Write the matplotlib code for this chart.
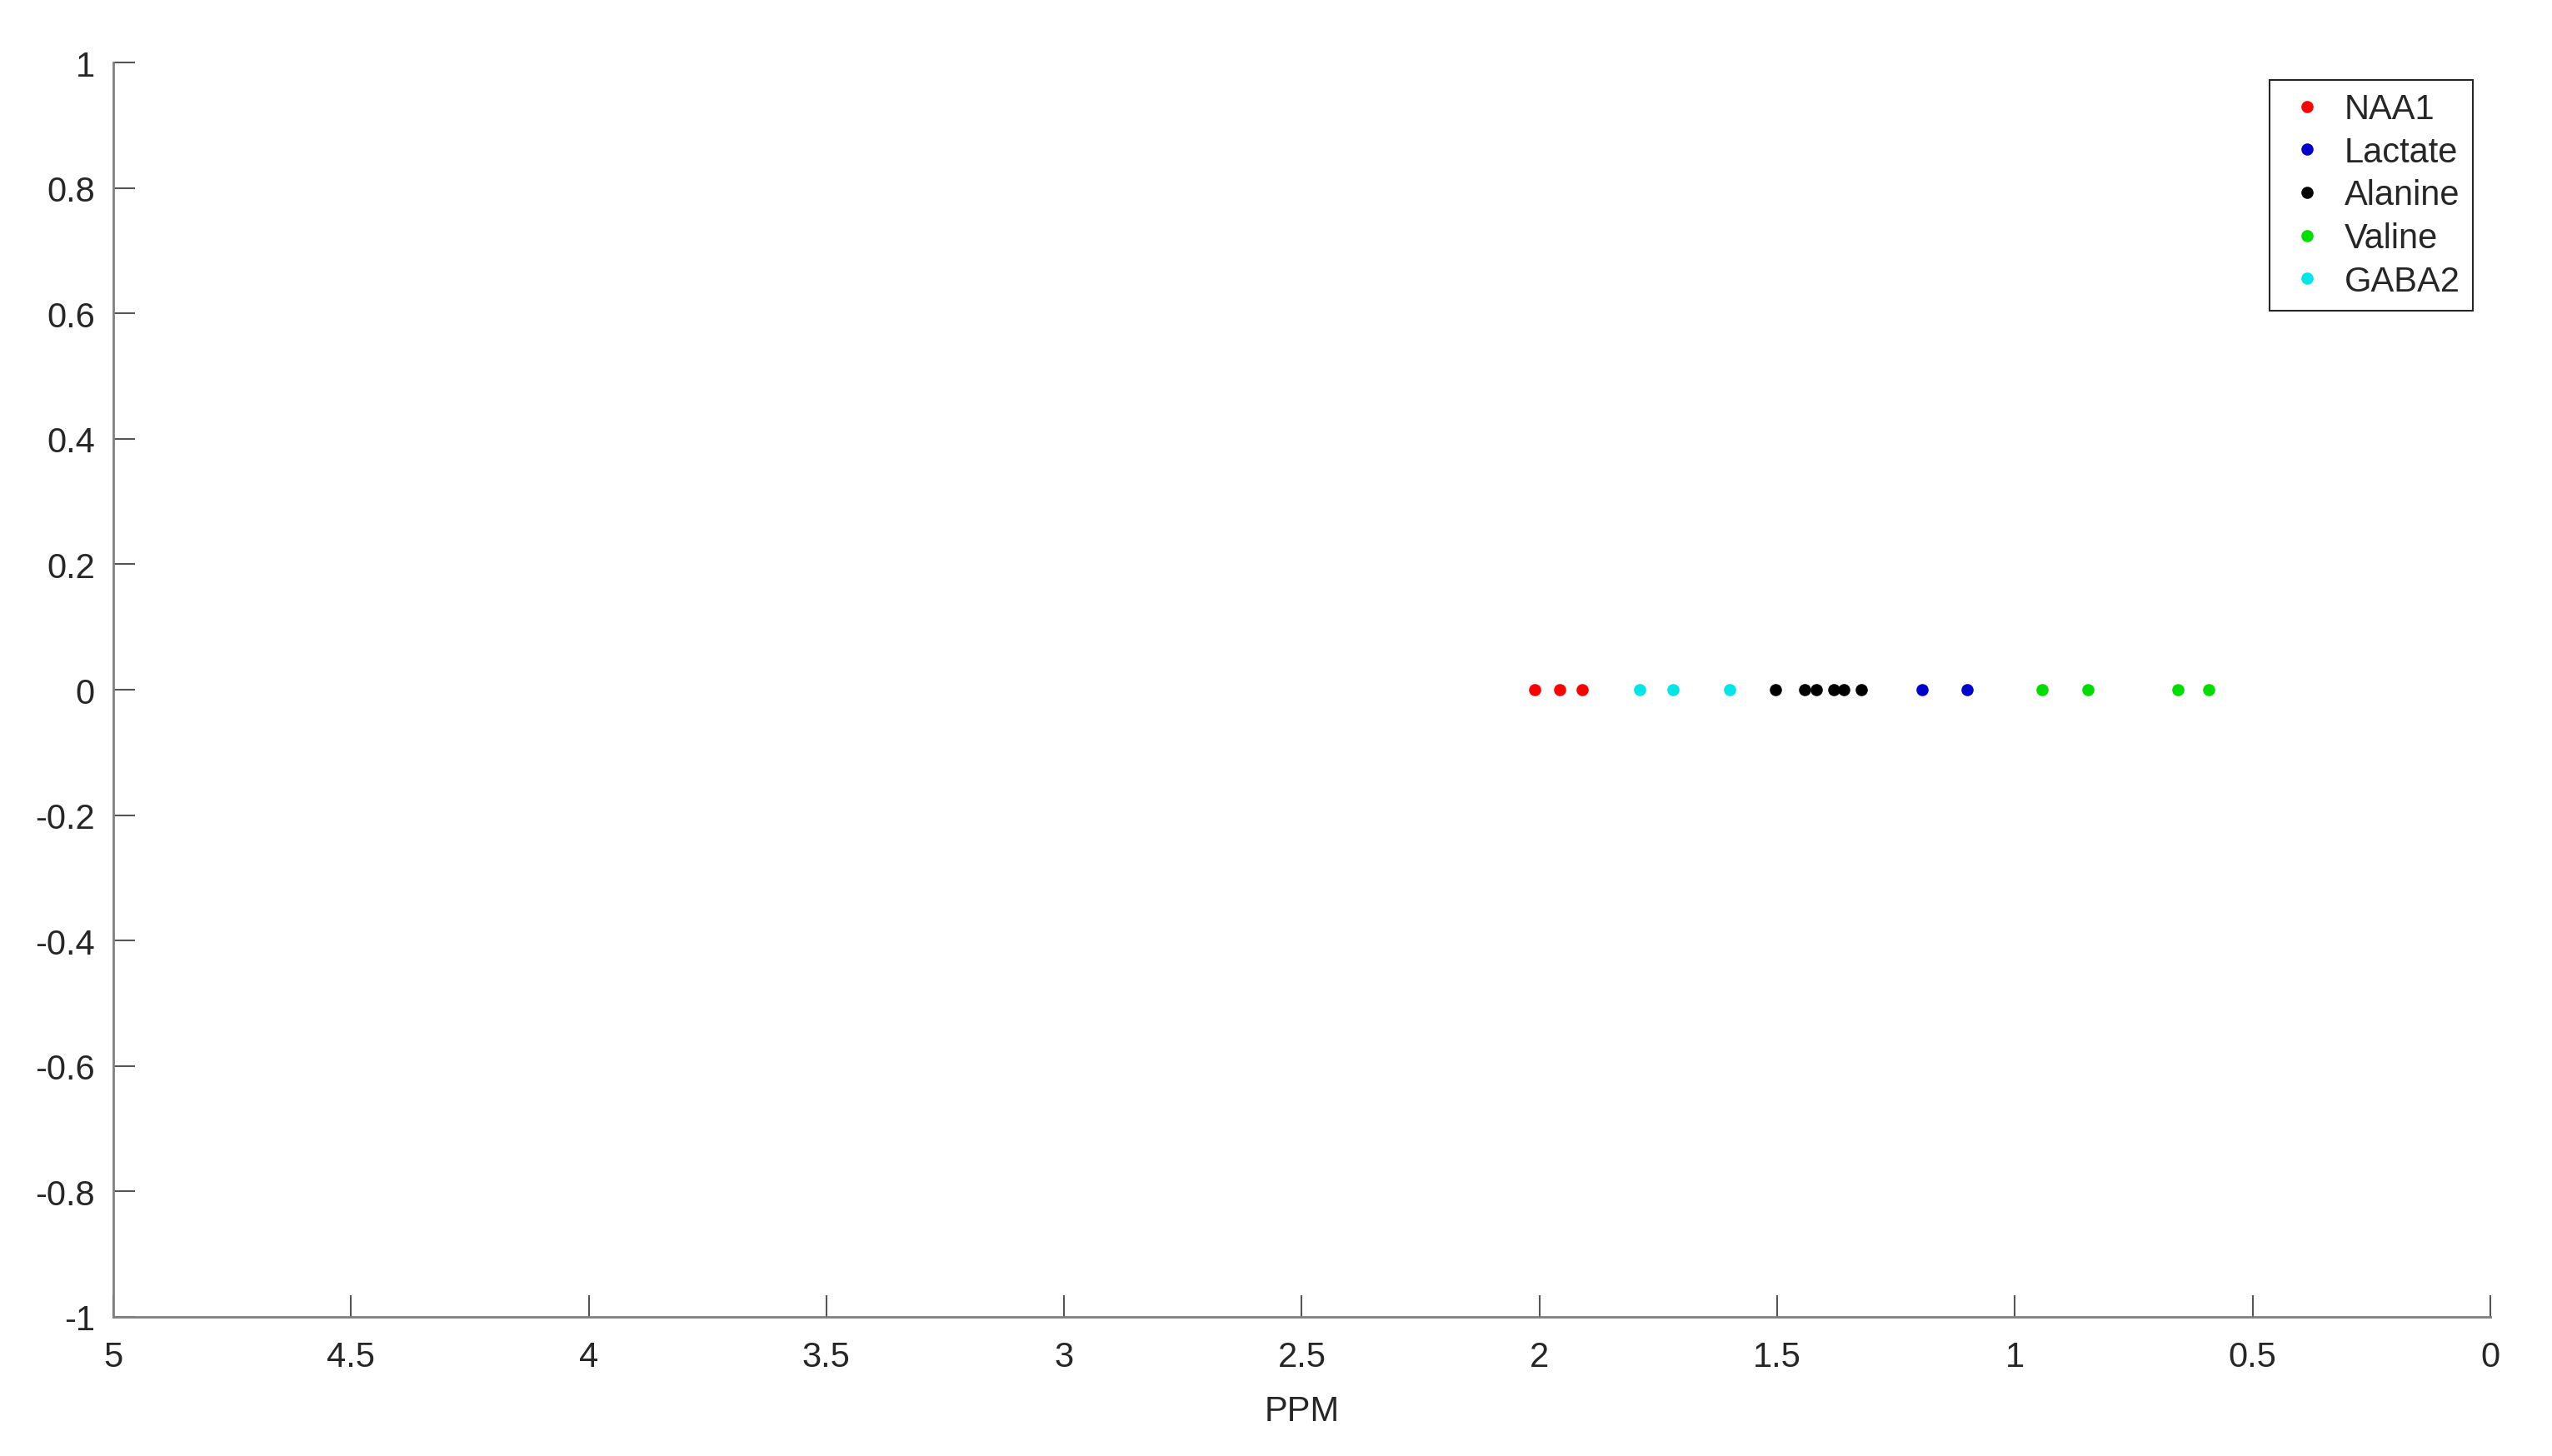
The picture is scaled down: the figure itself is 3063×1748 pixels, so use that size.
import numpy as np
import matplotlib
matplotlib.use('Agg')
import matplotlib.pyplot as plt

# peak positions (ppm), all drawn on y = 0
naa1_ppm = [2.01, 1.957, 1.91]
lactate_ppm = [1.195, 1.10]
alanine_ppm = [1.504, 1.443, 1.418, 1.38, 1.36, 1.323]
valine_ppm = [0.943, 0.847, 0.657, 0.592]
gaba2_ppm = [1.79, 1.719, 1.60]

series_names = ['NAA1', 'Lactate', 'Alanine', 'Valine', 'GABA2']
series_colors = ['#ff0000', '#0000cc', '#000000', '#00dd00', '#00e6e6']

x_ticks = [5, 4.5, 4, 3.5, 3, 2.5, 2, 1.5, 1, 0.5, 0]
x_tick_labels = ['5', '4.5', '4', '3.5', '3', '2.5', '2', '1.5', '1', '0.5', '0']
y_ticks = [1, 0.8, 0.6, 0.4, 0.2, 0, -0.2, -0.4, -0.6, -0.8, -1]
y_tick_labels = ['1', '0.8', '0.6', '0.4', '0.2', '0', '-0.2', '-0.4', '-0.6', '-0.8', '-1']

plt.rcParams['font.family'] = ['Liberation Sans', 'DejaVu Sans']

fig = plt.figure(figsize=(30.63, 17.49), dpi=100)
ax = fig.add_axes([0.0444, 0.0955, 0.9758 - 0.0444, 0.9565 - 0.0955])

all_series = [naa1_ppm, lactate_ppm, alanine_ppm, valine_ppm, gaba2_ppm]
for name, color, ppm in zip(series_names, series_colors, all_series):
    ax.plot(ppm, np.zeros(len(ppm)), linestyle='none', marker='o', markersize=10.5,
            color=color, markeredgewidth=0, label=name)

ax.set_xlim(5, 0)
ax.set_ylim(-1, 1)
ax.set_xticks(x_ticks)
ax.set_xticklabels(x_tick_labels)
ax.set_yticks(y_ticks)
ax.set_yticklabels(y_tick_labels)

for side in ['top', 'right']:
    ax.spines[side].set_visible(False)
for side in ['left', 'bottom']:
    ax.spines[side].set_color('#808080')
    ax.spines[side].set_linewidth(2)

ax.tick_params(axis='x', direction='in', length=19, width=1.5, color='#555555',
               labelsize=30, labelcolor='#262626', pad=20)
ax.tick_params(axis='y', direction='in', length=19, width=1.5, color='#555555',
               labelsize=30, labelcolor='#262626', pad=16)

ax.set_xlabel('PPM', fontsize=30, color='#262626', labelpad=18)

leg = ax.legend(loc='upper right', bbox_to_anchor=(0.9926, 0.986), borderaxespad=0,
                fontsize=30, fancybox=False, framealpha=1, edgecolor='#262626',
                handlelength=1.44, handletextpad=0.36, labelspacing=0.28,
                borderpad=0.36, markerscale=1.0)
leg.get_frame().set_linewidth(1.5)
for t in leg.get_texts():
    t.set_color('#262626')

fig.savefig('out.png', dpi=100, facecolor='white')
